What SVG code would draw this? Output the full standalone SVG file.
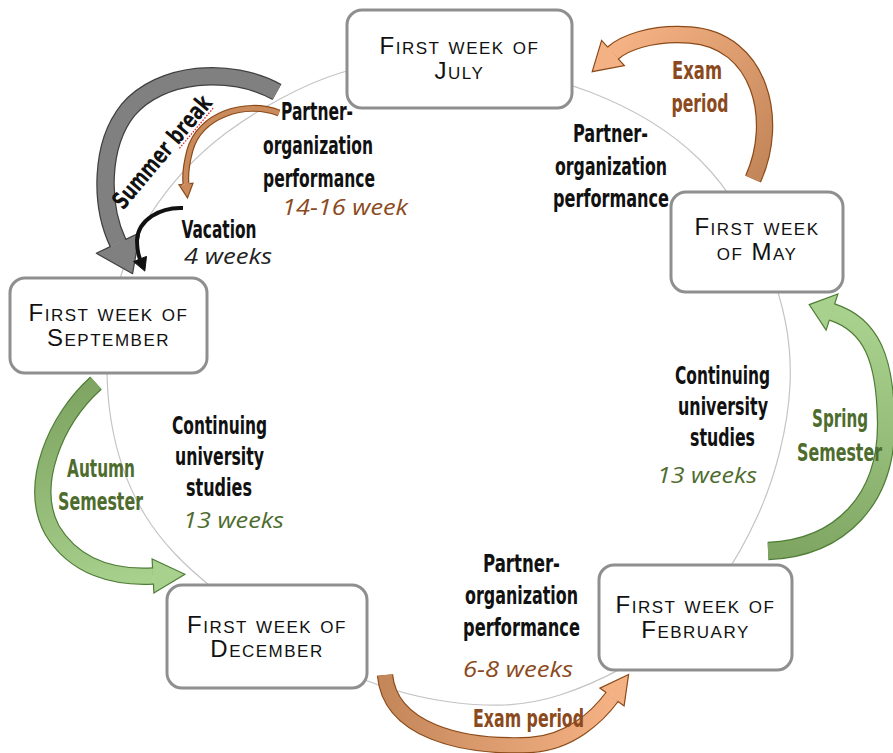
<svg xmlns="http://www.w3.org/2000/svg" width="893" height="753" viewBox="0 0 893 753">
<style>
.guide{fill:none;stroke:#c4c4c4;stroke-width:1.2}
.box{fill:#fff;stroke:#8f8f8f;stroke-width:3}
.nt{font-family:"Liberation Sans",Arial,sans-serif;font-size:24px;font-variant:small-caps;letter-spacing:1.5px;fill:#111;text-anchor:middle}
.lb{font-family:"DejaVu Sans Condensed","DejaVu Sans",sans-serif;font-weight:bold;font-stretch:condensed;font-size:24px;text-anchor:middle}
.it{font-family:"Open Sans","Liberation Sans",sans-serif;font-style:italic;font-size:22px;text-anchor:middle}
.k{fill:#111}
.br{fill:#8b4a1d}
.gr{fill:#4e6c2e}
.bo{fill:none;stroke:#8b4a17}
.go{fill:none;stroke:#4f7d36}
</style>
<defs>
<linearGradient id="gBrTop" gradientUnits="userSpaceOnUse" x1="753" y1="179" x2="613" y2="53"><stop offset="0" stop-color="#c4875a"/><stop offset="1" stop-color="#f4b183"/></linearGradient>
<linearGradient id="gBrBot" gradientUnits="userSpaceOnUse" x1="385" y1="675" x2="612" y2="697"><stop offset="0" stop-color="#c4875a"/><stop offset="1" stop-color="#f4b183"/></linearGradient>
<linearGradient id="gGrR" gradientUnits="userSpaceOnUse" x1="768" y1="551" x2="832" y2="312"><stop offset="0" stop-color="#7ea561"/><stop offset="1" stop-color="#a9d18e"/></linearGradient>
<linearGradient id="gGrL" gradientUnits="userSpaceOnUse" x1="96" y1="383" x2="153" y2="576"><stop offset="0" stop-color="#7ea561"/><stop offset="1" stop-color="#a9d18e"/></linearGradient>
</defs>

<path class="guide" d="M450,64 C491.7,67.2 548.3,76 590,92 C631.7,108 670,130.3 700,160 C730,189.7 755,232.5 770,270 C785,307.5 792,344.2 790,385 C788,425.8 776.3,474.5 758,515 C739.7,555.5 713,598 680,628 C647,658 598.3,682.7 560,695 C521.7,707.3 488.3,707 450,702 C411.7,697 369.2,683.7 330,665 C290.8,646.3 245.8,615 215,590 C184.2,565 162.3,543.3 145,515 C127.7,486.7 116.5,454.2 111,420 C105.5,385.8 105.5,344.2 112,310 C118.5,275.8 131,244.5 150,215 C169,185.5 194.3,156.7 226,133 C257.7,109.3 302.7,84.5 340,73 C377.3,61.5 408.3,60.8 450,64 Z"/>

<g id="connectors">
  <g id="arrow-summer-break">
    <path d="M277,92 C230,66 160,72 128,110 C100,145 100,205 118,243" fill="none" stroke="#404040" stroke-width="18.5"/>
    <path d="M277,92 C230,66 160,72 128,110 C100,145 100,205 118,243" fill="none" stroke="#808080" stroke-width="16"/>
    <path d="M110.8,246.4 L96.3,253.3 L132.6,273.7 L139.7,232.7 L125.2,239.6" fill="#808080" stroke="#404040" stroke-width="1.2" stroke-linejoin="round"/>
  </g>
  <g id="arrow-partner-summer">
    <path d="M279,113 C245,100 200,115 190,150 C186,165 185,175 186,184" class="bo" stroke-width="7"/>
    <path d="M279,113 C245,100 200,115 190,150 C186,165 185,175 186,184" fill="none" stroke="#c98a5c" stroke-width="4.6"/>
    <path d="M182.5,184.4 L179,184.8 L187.5,197.9 L193,183.2 L189.5,183.6" fill="#c98a5c" stroke="#8b4a17" stroke-width="1.2"/>
  </g>
  <g id="arrow-vacation">
    <path d="M183,208 C160,207 138,220 137,240 C137,248 138,254 140,259" fill="none" stroke="#111" stroke-width="4"/>
    <path d="M133.5,261.6 L144.8,271.1 L146.5,256.4 Z" fill="#111" stroke="#111" stroke-width="1"/>
  </g>
  <g id="arrow-exam-top">
    <path d="M753,179 C780,120 760,40 690,35 C650,32 623,44 613,53" class="bo" stroke-width="17.4"/>
    <path d="M753,179 C780,120 760,40 690,35 C650,32 623,44 613,53" fill="none" stroke="url(#gBrTop)" stroke-width="15"/>
    <path d="M608,47.4 L601.6,40.4 L592.2,71.7 L624.4,65.6 L618,58.6" fill="#f4b183" stroke="#8b4a17" stroke-width="1.2"/>
  </g>
  <g id="arrow-spring">
    <path d="M768,551 C840,548 888,500 886,420 C885,360 872,325 832,312" class="go" stroke-width="18.4"/>
    <path d="M768,551 C840,548 888,500 886,420 C885,360 872,325 832,312" fill="none" stroke="url(#gGrR)" stroke-width="16"/>
    <path d="M834.5,304.4 L837.9,293.9 L809.2,304.6 L826.1,330.1 L829.5,319.6" fill="#a9d18e" stroke="#4f7d36" stroke-width="1.2"/>
  </g>
  <g id="arrow-autumn">
    <path d="M96,383 C55,420 28,485 52,530 C75,568 115,578 153,576" class="go" stroke-width="17.4"/>
    <path d="M96,383 C55,420 28,485 52,530 C75,568 115,578 153,576" fill="none" stroke="url(#gGrL)" stroke-width="15"/>
    <path d="M153.4,583.5 L153.9,593 L184.9,574.3 L152.1,559 L152.6,568.5" fill="#a9d18e" stroke="#4f7d36" stroke-width="1.2"/>
  </g>
  <g id="arrow-exam-bottom">
    <path d="M385,675 C390,730 460,748 530,745 C570,743 598,716 612,697" class="bo" stroke-width="16.4"/>
    <path d="M385,675 C390,730 460,748 530,745 C570,743 598,716 612,697" fill="none" stroke="url(#gBrBot)" stroke-width="14"/>
    <path d="M617.6,701.2 L624.1,705.9 L628.6,674.5 L599.9,688.1 L606.4,692.8" fill="#f4b183" stroke="#8b4a17" stroke-width="1.2"/>
  </g>
</g>

<g id="node-july">
  <rect class="box" x="347" y="10" width="225" height="98" rx="15"/>
  <text class="nt" x="459.5" y="54">First week of</text>
  <text class="nt" x="459.5" y="79">July</text>
</g>
<g id="node-may">
  <rect class="box" x="671" y="192" width="172" height="100" rx="15"/>
  <text class="nt" x="757" y="235">First week</text>
  <text class="nt" x="757" y="260">of May</text>
</g>
<g id="node-september">
  <rect class="box" x="10" y="278" width="197" height="95" rx="15"/>
  <text class="nt" x="108.5" y="321">First week of</text>
  <text class="nt" x="108.5" y="346">September</text>
</g>
<g id="node-december">
  <rect class="box" x="167" y="585" width="200" height="103" rx="15"/>
  <text class="nt" x="267" y="633">First week of</text>
  <text class="nt" x="267" y="657">December</text>
</g>
<g id="node-february">
  <rect class="box" x="599" y="565" width="193" height="105" rx="15"/>
  <text class="nt" x="695.5" y="613">First week of</text>
  <text class="nt" x="695.5" y="638">February</text>
</g>

<g id="labels">
  <text class="lb k" transform="translate(162,152) rotate(-50)" x="0" y="8" font-size="23" textLength="140" lengthAdjust="spacingAndGlyphs">Summer break</text>
  <path transform="translate(162,152) rotate(-50)" d="M14,11 L68,11" fill="none" stroke="#e02020" stroke-width="1.3" stroke-dasharray="1.5 1.5"/>

  <text class="lb k" x="317" y="120" textLength="72" lengthAdjust="spacingAndGlyphs">Partner-</text>
  <text class="lb k" x="318" y="154" textLength="110" lengthAdjust="spacingAndGlyphs">organization</text>
  <text class="lb k" x="319" y="187" textLength="112" lengthAdjust="spacingAndGlyphs">performance</text>
  <text class="it br" x="345" y="215" textLength="126" lengthAdjust="spacingAndGlyphs">14-16 week</text>
  <text class="lb k" x="219" y="238" textLength="75" lengthAdjust="spacingAndGlyphs">Vacation</text>
  <text class="it" fill="#222" x="228" y="264" textLength="88" lengthAdjust="spacingAndGlyphs">4 weeks</text>

  <text class="lb br" x="697" y="79" textLength="50" lengthAdjust="spacingAndGlyphs">Exam</text>
  <text class="lb br" x="700" y="112" textLength="57" lengthAdjust="spacingAndGlyphs">period</text>

  <text class="lb k" x="610.5" y="142" textLength="75" lengthAdjust="spacingAndGlyphs">Partner-</text>
  <text class="lb k" x="611" y="175" textLength="112" lengthAdjust="spacingAndGlyphs">organization</text>
  <text class="lb k" x="611" y="207" textLength="116" lengthAdjust="spacingAndGlyphs">performance</text>

  <text class="lb k" x="722.5" y="384" textLength="95" lengthAdjust="spacingAndGlyphs">Continuing</text>
  <text class="lb k" x="723" y="415" textLength="90" lengthAdjust="spacingAndGlyphs">university</text>
  <text class="lb k" x="722.5" y="446" textLength="65" lengthAdjust="spacingAndGlyphs">studies</text>
  <text class="it gr" x="707" y="483" textLength="100" lengthAdjust="spacingAndGlyphs">13 weeks</text>

  <text class="lb gr" x="840" y="427" textLength="56" lengthAdjust="spacingAndGlyphs">Spring</text>
  <text class="lb gr" x="839.5" y="461" textLength="85" lengthAdjust="spacingAndGlyphs">Semester</text>

  <text class="lb k" x="219.5" y="434" textLength="95" lengthAdjust="spacingAndGlyphs">Continuing</text>
  <text class="lb k" x="219.5" y="465" textLength="89" lengthAdjust="spacingAndGlyphs">university</text>
  <text class="lb k" x="219" y="496" textLength="66" lengthAdjust="spacingAndGlyphs">studies</text>
  <text class="it gr" x="233.5" y="528" textLength="101" lengthAdjust="spacingAndGlyphs">13 weeks</text>

  <text class="lb gr" x="101" y="477" textLength="68" lengthAdjust="spacingAndGlyphs">Autumn</text>
  <text class="lb gr" x="100.5" y="510" textLength="85" lengthAdjust="spacingAndGlyphs">Semester</text>

  <text class="lb k" x="521.5" y="572" textLength="77" lengthAdjust="spacingAndGlyphs">Partner-</text>
  <text class="lb k" x="521.5" y="604" textLength="113" lengthAdjust="spacingAndGlyphs">organization</text>
  <text class="lb k" x="521.5" y="636" textLength="117" lengthAdjust="spacingAndGlyphs">performance</text>
  <text class="it br" x="518" y="677" textLength="110" lengthAdjust="spacingAndGlyphs">6-8 weeks</text>
  <text class="lb br" x="528.5" y="727" textLength="111" lengthAdjust="spacingAndGlyphs">Exam period</text>
</g>
</svg>
